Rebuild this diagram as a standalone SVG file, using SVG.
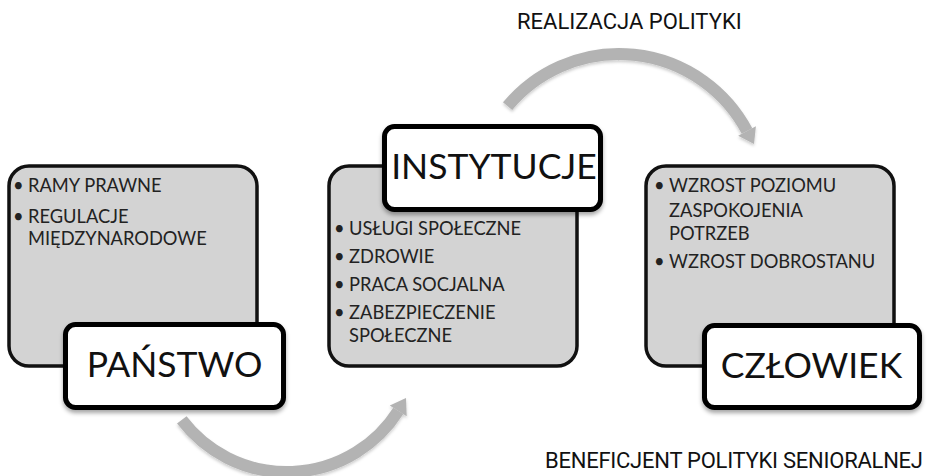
<svg xmlns="http://www.w3.org/2000/svg" width="929" height="476" viewBox="0 0 929 476">
  <defs>
    <filter id="shadow" x="-10%" y="-10%" width="130%" height="140%">
      <feDropShadow dx="0" dy="3" stdDeviation="2" flood-color="#000" flood-opacity="0.35"/>
    </filter>
    <filter id="softShadow" x="-10%" y="-10%" width="130%" height="140%">
      <feDropShadow dx="0" dy="2" stdDeviation="1.5" flood-color="#000" flood-opacity="0.2"/>
    </filter>
  </defs>
  <style>
    .panel { fill: #d3d3d3; stroke: #111; stroke-width: 3.5; }
    .title-box { fill: #fff; stroke: #000; stroke-width: 5; }
    .item { font-family: Lato, "Open Sans", sans-serif; font-size: 18.3px; fill: #222; }
    .title { font-family: Lato, "Open Sans", sans-serif; font-size: 35.5px; fill: #111; text-anchor: middle; }
    .caption { font-family: Roboto, "DejaVu Sans", sans-serif; font-size: 22px; fill: #111; }
    .band { fill: none; stroke: #b3b3b3; stroke-width: 12; }
    .head { fill: #b3b3b3; }
  </style>

  <!-- curved arrows between the stages -->
  <g id="connectors" filter="url(#softShadow)">
    <g id="arrow-top">
      <path class="band" d="M507.6,106.2 A145,145 0 0 1 747,131"/>
      <polygon class="head" points="738.2,135.7 755.9,126.3 754,144"/>
    </g>
    <g id="arrow-bottom">
      <path class="band" d="M181.8,419.9 A132,132 0 0 0 398.3,410.9"/>
      <polygon class="head" points="389.8,405.5 406.7,416.3 406,398"/>
    </g>
  </g>

  <!-- stage 1 -->
  <g id="panstwo">
    <rect class="panel" x="9" y="166" width="248" height="200" rx="20"/>
    <text class="item" x="13" y="192">•<tspan x="28">RAMY PRAWNE</tspan></text>
    <text class="item" x="13" y="223">•<tspan x="28">REGULACJE</tspan></text>
    <text class="item" x="28" y="245">MIĘDZYNARODOWE</text>
    <rect class="title-box" x="65.5" y="324.5" width="218" height="83" rx="10" filter="url(#shadow)"/>
    <text class="title" x="174.5" y="377">PAŃSTWO</text>
  </g>

  <!-- stage 2 -->
  <g id="instytucje">
    <rect class="panel" x="329" y="166" width="248" height="200" rx="20"/>
    <text class="item" x="334" y="235">•<tspan x="349">USŁUGI SPOŁECZNE</tspan></text>
    <text class="item" x="334" y="263">•<tspan x="349">ZDROWIE</tspan></text>
    <text class="item" x="334" y="291">•<tspan x="349">PRACA SOCJALNA</tspan></text>
    <text class="item" x="334" y="319">•<tspan x="349">ZABEZPIECZENIE</tspan></text>
    <text class="item" x="349" y="342">SPOŁECZNE</text>
    <rect class="title-box" x="384.5" y="126.5" width="216" height="83" rx="10" filter="url(#shadow)"/>
    <text class="title" x="494" y="179">INSTYTUCJE</text>
  </g>

  <!-- stage 3 -->
  <g id="czlowiek">
    <rect class="panel" x="646" y="166" width="248" height="200" rx="20"/>
    <text class="item" x="654" y="192">•<tspan x="669">WZROST POZIOMU</tspan></text>
    <text class="item" x="669" y="217">ZASPOKOJENIA</text>
    <text class="item" x="669" y="240">POTRZEB</text>
    <text class="item" x="654" y="268">•<tspan x="669">WZROST DOBROSTANU</tspan></text>
    <rect class="title-box" x="704.5" y="325.5" width="215" height="82" rx="10" filter="url(#shadow)"/>
    <text class="title" x="811.5" y="378">CZŁOWIEK</text>
  </g>

  <!-- captions -->
  <text class="caption" x="517" y="29">REALIZACJA POLITYKI</text>
  <text class="caption" x="545" y="468" textLength="378">BENEFICJENT POLITYKI SENIORALNEJ</text>
</svg>
